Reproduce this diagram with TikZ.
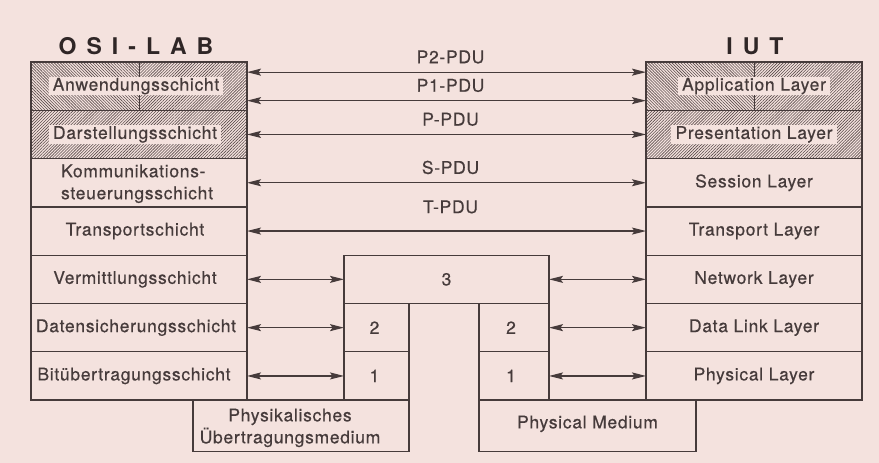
\documentclass[tikz,border=0pt]{standalone}
\usepackage{fontspec}
\setmainfont{TeX Gyre Heros}[LetterSpace=4,FakeBold=0.5]
\newfontfamily\ttlfont{TeX Gyre Heros}
\usetikzlibrary{arrows.meta,patterns.meta,backgrounds}
\definecolor{bg}{HTML}{F4E2DE}
\definecolor{ink}{HTML}{463B3B}
\definecolor{hc}{HTML}{5A4C4C}
\definecolor{ttl}{HTML}{2F2626}
\begin{document}
\begin{tikzpicture}[x=1pt,y=-1pt,
  box/.style={draw=ink, line width=1.25pt, minimum width=216pt, minimum height=48.3pt, inner sep=0pt, outer sep=0pt},
  txt/.style={text=ink, font=\fontsize{17.5}{22}\selectfont, inner sep=1pt},
  hlbl/.style={txt, fill=bg, inner xsep=4pt, inner ysep=1pt},
  ttlstyle/.style={text=ttl, font=\ttlfont\bfseries\fontsize{23}{23}\selectfont},
  tip/.tip={Stealth[length=14pt,width=7pt,inset=2.5pt]},
  pdu/.style={draw=ink, line width=1.25pt, tip-tip},
  pdulbl/.style={txt, above=7pt, midway, xshift=4pt},
  hne/.style={pattern={Lines[angle=45,distance=2.1pt,line width=0.6pt]}, pattern color=hc},
  hnw/.style={pattern={Lines[angle=-45,distance=2.1pt,line width=0.6pt]}, pattern color=hc}]
\useasboundingbox (0,0) rectangle (879,463);

% titles
\node[ttlstyle] (osi) at (136,46) {O\kern10pt S\kern10pt I\kern10pt -\kern10pt L\kern10pt A\kern10pt B};
\node[ttlstyle] (iut) at (755,46) {I\kern10pt U\kern10pt T};

% left column (OSI-LAB)
\node[box] (L7) at (139,86.15) {};
\node[box] (L6) at (139,134.45) {};
\node[box] (L5) at (139,182.75) {};
\node[box] (L4) at (139,231.05) {};
\node[box] (L3) at (139,279.35) {};
\node[box] (L2) at (139,327.65) {};
\node[box] (L1) at (139,375.95) {};

% right column (IUT)
\node[box] (R7) at (754,86.15) {};
\node[box] (R6) at (754,134.45) {};
\node[box] (R5) at (754,182.75) {};
\node[box] (R4) at (754,231.05) {};
\node[box] (R3) at (754,279.35) {};
\node[box] (R2) at (754,327.65) {};
\node[box] (R1) at (754,375.95) {};

% middle relay
\node[box, minimum width=205pt] (M3) at (446.5,279.35) {};
\node[box, minimum width=65pt] (M2L) at (376.5,327.65) {};
\node[box, minimum width=65pt] (M1L) at (376.5,375.95) {};
\node[box, minimum width=70pt] (M2R) at (514,327.65) {};
\node[box, minimum width=70pt] (M1R) at (514,375.95) {};

% media
\node[box, minimum width=216pt, minimum height=51.5pt] (PhL) at (301,425.85) {};
\node[box, minimum width=217pt, minimum height=51.5pt] (PhR) at (587.5,425.85) {};

% hatching
\begin{scope}[on background layer]
  \fill[bg] (0,0) rectangle (879,463);
  \fill[hnw] (L7.north west) rectangle (L7.south);
  \fill[hne] (L7.north) rectangle (L7.south east);
  \fill[hne] (L6.north west) rectangle (L6.south east);
  \fill[hnw] (R7.north west) rectangle (R7.south);
  \fill[hne] (R7.north) rectangle (R7.south east);
  \fill[hne] (R6.north west) rectangle (R6.south east);
\end{scope}
\draw[ink, line width=1pt] (L7.north) -- (L7.south);
\draw[ink, line width=1pt] (R7.north) -- (R7.south);

% texts left
\node[hlbl] (t7l) at ([xshift=-3pt]L7.center) {Anwendungsschicht};
\node[hlbl] (t6l) at ([xshift=-4pt]L6.center) {Darstellungsschicht};
\node[txt, align=left] (t5l) at ([xshift=-2pt,yshift=-1pt]L5.center) {Kommunikations-\\steuerungsschicht};
\node[txt] (t4l) at ([xshift=-4pt]L4.center) {Transportschicht};
\node[txt] (t3l) at ([xshift=-4pt]L3.center) {Vermittlungsschicht};
\node[txt] (t2l) at ([xshift=-3pt]L2.center) {Datensicherungsschicht};
\node[txt] (t1l) at ([xshift=-5pt]L1.center) {Bitübertragungsschicht};

% texts right
\node[hlbl] (t7r) at (R7.center) {Application Layer};
\node[hlbl] (t6r) at (R6.center) {Presentation Layer};
\node[txt] (t5r) at (R5.center) {Session Layer};
\node[txt] (t4r) at (R4.center) {Transport Layer};
\node[txt] (t3r) at (R3.center) {Network Layer};
\node[txt] (t2r) at (R2.center) {Data Link Layer};
\node[txt] (t1r) at (R1.center) {Physical Layer};

% middle texts
\node[txt] (t3m) at (M3.center) {3};
\node[txt] (t2ml) at ([xshift=-2pt]M2L.center) {2};
\node[txt] (t1ml) at ([xshift=-2pt]M1L.center) {1};
\node[txt] (t2mr) at ([xshift=-3pt]M2R.center) {2};
\node[txt] (t1mr) at ([xshift=-3pt]M1R.center) {1};
\node[txt, align=center] (tphl) at ([xshift=-11pt,yshift=-2pt]PhL.center) {Physikalisches\\Übertragungsmedium};
\node[txt] (tphr) at ([yshift=2pt]PhR.center) {Physical Medium};

% peer protocol arrows
\draw[pdu] ([yshift=14pt]L7.east) -- node[pdulbl] (p2) {P2-PDU} ([yshift=14pt]R7.west);
\draw[pdu] ([yshift=-14.5pt]L7.east) -- node[pdulbl] (p1) {P1-PDU} ([yshift=-14.5pt]R7.west);
\draw[pdu] (L6.east) -- node[pdulbl] (pp) {P-PDU} (R6.west);
\draw[pdu] (L5.east) -- node[pdulbl] (sp) {S-PDU} (R5.west);
\draw[pdu] (L4.east) -- node[pdulbl, above=9pt] (tp) {T-PDU} (R4.west);

% lower arrows
\draw[pdu] (L3.east) -- (M3.west);
\draw[pdu] (L2.east) -- (M2L.west);
\draw[pdu] (L1.east) -- (M1L.west);
\draw[pdu] (M3.east) -- (R3.west);
\draw[pdu] (M2R.east) -- (R2.west);
\draw[pdu] (M1R.east) -- (R1.west);
\end{tikzpicture}
\end{document}
